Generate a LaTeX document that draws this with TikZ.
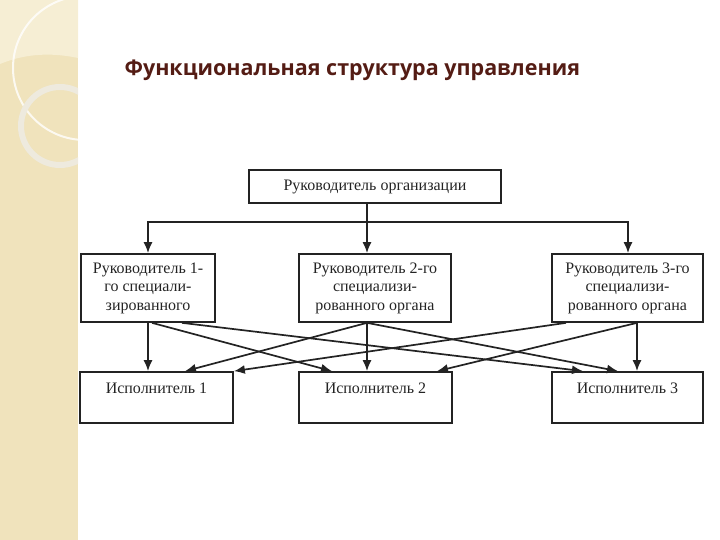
\documentclass[tikz,border=0pt]{standalone}
\usepackage{fontspec}
\setmainfont{Liberation Serif}
\newfontfamily\titlefont{Open Sans}
\usepackage{tikz}
\usetikzlibrary{arrows.meta,positioning,calc}
\definecolor{strip}{RGB}{240,227,188}
\definecolor{stripl}{RGB}{246,238,212}
\definecolor{ring}{RGB}{238,234,222}
\definecolor{titlec}{RGB}{84,28,20}
\definecolor{linec}{RGB}{35,35,35}

\begin{document}
\begin{tikzpicture}[x=1pt,y=-1pt,
		box/.style={draw=linec,line width=1.7pt,rectangle,align=center,inner sep=2pt,text=linec,font=\fontsize{16}{18.5}\selectfont},
		ispbox/.style={box,minimum width=153pt,minimum height=51pt,text depth=18pt},
		arr/.style={draw=linec,line width=1.7pt,-{Latex[length=11pt,width=9pt]}}]
		\useasboundingbox (0,0) rectangle (720,540);

		\fill[strip] (0,0) rectangle (78,540);
		\begin{scope}
			\clip (0,0) rectangle (78,540);
			\fill[stripl] (0,0) -- (78,0) -- (78,58) .. controls (40,50) and (15,58) .. (0,64) -- cycle;
			\draw[white,line width=2pt,opacity=0.8] (85,68) circle (72);
			\draw[ring,line width=6pt] (60,126) circle (39);
		\end{scope}

		\node[anchor=base west,text=titlec,font=\titlefont\bfseries\fontsize{21.5}{25}\selectfont] (title) at (121,76) {Функциональная структура управления};

		\node[box,minimum width=252pt,minimum height=33pt] (top) at (375,186.5) {Руководитель организации};

		\node[box,minimum width=134pt,minimum height=68pt] (r1) at (148,288) {Руководитель 1-\\го специали-\\зированного};
		\node[box,minimum width=152pt,minimum height=68pt] (r2) at (375,288) {Руководитель 2-го\\специализи-\\рованного органа};
		\node[box,minimum width=151pt,minimum height=68pt] (r3) at (627.5,288) {Руководитель 3-го\\специализи-\\рованного органа};

		\node[ispbox] (i1) at (156.5,397.5) {Исполнитель 1};
		\node[ispbox] (i2) at (375.5,397.5) {Исполнитель 2};
		\node[ispbox,minimum width=151pt] (i3) at (627.5,397.5) {Исполнитель 3};

		\draw[arr] ([xshift=-8pt]top.south) -- ([xshift=-8pt]r2.north);
		\draw[arr] ([xshift=-8pt]top.south) -- ++(0,18) coordinate (fork) -| (r1.north);
		\draw[arr] (fork) -| ([xshift=0.5pt]r3.north);

		\draw[arr] (r1.south) -- (r1.south |- i1.north);
		\draw[arr] ([xshift=4pt]r1.south) -- ([xshift=-43.5pt]i2.north);
		\draw[arr] ([xshift=34pt]r1.south) -- ([xshift=-44.5pt]i3.north);

		\draw[arr] ([xshift=-8pt]r2.south) -- ([xshift=28.5pt]i1.north);
		\draw[arr] ([xshift=-8pt]r2.south) -- ([xshift=-8.5pt]i2.north);
		\draw[arr] ([xshift=-8pt]r2.south) -- ([xshift=-9.5pt]i3.north);

		\draw[arr] ([xshift=-61.5pt]r3.south) -- (i1.north east);
		\draw[arr] ([xshift=9.5pt]r3.south) -- ([xshift=61.5pt]i2.north);
		\draw[arr] ([xshift=9.5pt]r3.south) -- ([xshift=9.5pt]i3.north);
	\end{tikzpicture}
\end{document}
